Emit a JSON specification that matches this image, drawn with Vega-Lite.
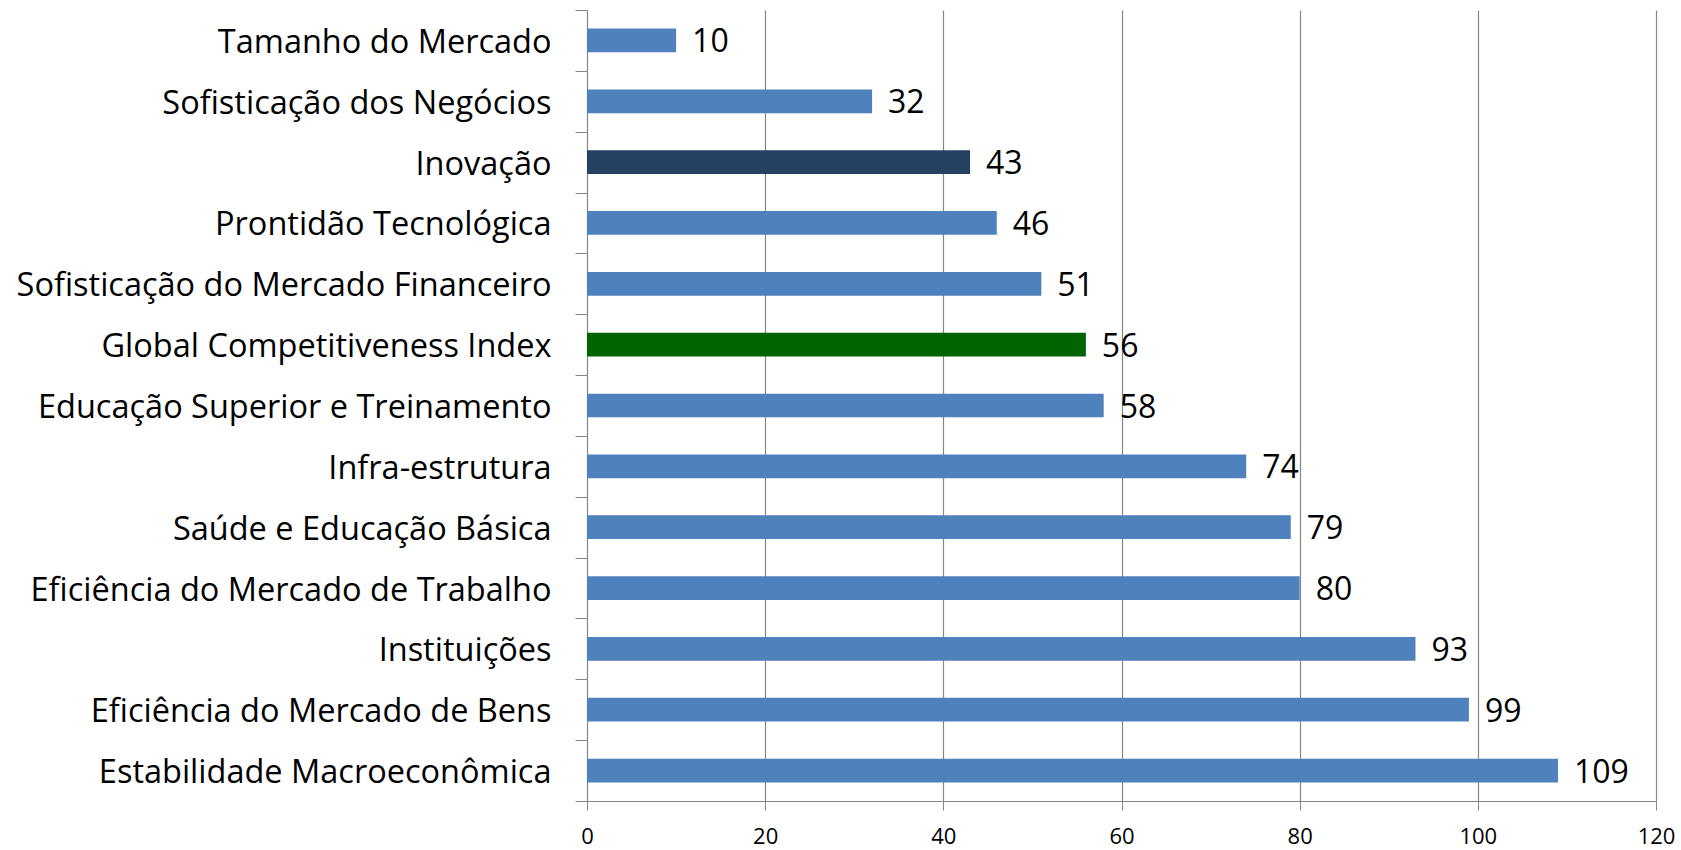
{
  "$schema": "https://vega.github.io/schema/vega-lite/v6.json",
  "autosize": {"type": "none"},
  "width": 1069,
  "height": 791,
  "padding": {"left": 587, "top": 10, "right": 25, "bottom": 49},
  "background": "white",
  "config": {"view": {"stroke": null}, "font": "Open Sans"},
  "data": {"values": [
    {"pilar": "Tamanho do Mercado", "rank": 10, "grupo": "pilar"},
    {"pilar": "Sofisticação dos Negócios", "rank": 32, "grupo": "pilar"},
    {"pilar": "Inovação", "rank": 43, "grupo": "inovacao"},
    {"pilar": "Prontidão Tecnológica", "rank": 46, "grupo": "pilar"},
    {"pilar": "Sofisticação do Mercado Financeiro", "rank": 51, "grupo": "pilar"},
    {"pilar": "Global Competitiveness Index", "rank": 56, "grupo": "indice"},
    {"pilar": "Educação Superior e Treinamento", "rank": 58, "grupo": "pilar"},
    {"pilar": "Infra-estrutura", "rank": 74, "grupo": "pilar"},
    {"pilar": "Saúde e Educação Básica", "rank": 79, "grupo": "pilar"},
    {"pilar": "Eficiência do Mercado de Trabalho", "rank": 80, "grupo": "pilar"},
    {"pilar": "Instituições", "rank": 93, "grupo": "pilar"},
    {"pilar": "Eficiência do Mercado de Bens", "rank": 99, "grupo": "pilar"},
    {"pilar": "Estabilidade Macroeconômica", "rank": 109, "grupo": "pilar"}
  ]},
  "encoding": {
    "y": {
      "field": "pilar", "type": "nominal", "sort": null,
      "scale": {"paddingInner": 0, "paddingOuter": 0},
      "axis": {
        "title": null, "labelFontSize": 32.5, "labelColor": "black", "labelFont": "Open Sans",
        "tickBand": "extent", "tickSize": 12, "tickColor": "#868686", "domainColor": "#868686",
        "labelPadding": 24, "labelLimit": 700, "grid": false, "labelOffset": 2
      }
    },
    "x": {
      "field": "rank", "type": "quantitative",
      "scale": {"domain": [0, 120], "nice": false},
      "axis": {
        "title": null, "values": [0, 20, 40, 60, 80, 100, 120], "labelFontSize": 22,
        "labelColor": "black", "labelFont": "Open Sans", "tickSize": 9, "tickColor": "#868686",
        "domainColor": "#868686", "grid": true, "gridColor": "#868686", "gridWidth": 1.2,
        "labelPadding": 16, "labelFlush": false
      }
    }
  },
  "layer": [
    {
      "mark": {"type": "bar", "height": {"band": 0.39}},
      "encoding": {
        "color": {
          "field": "grupo", "type": "nominal", "legend": null,
          "scale": {"domain": ["pilar", "inovacao", "indice"], "range": ["#4F81BD", "#254061", "#006400"]}
        }
      }
    },
    {
      "mark": {"type": "text", "align": "left", "baseline": "middle", "dx": 16, "dy": 2, "fontSize": 32, "font": "Open Sans", "color": "black"},
      "encoding": {"text": {"field": "rank", "type": "quantitative"}}
    }
  ]
}
